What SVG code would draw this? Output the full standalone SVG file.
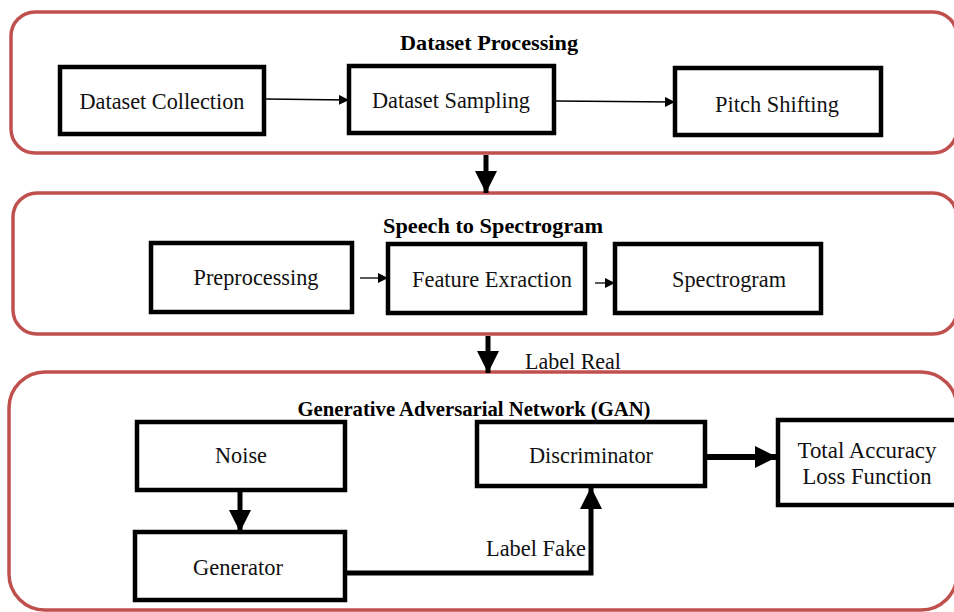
<svg xmlns="http://www.w3.org/2000/svg" width="954" height="612" viewBox="0 0 954 612">
<defs>
<marker id="ah" markerWidth="10" markerHeight="10" refX="9" refY="5" orient="auto" markerUnits="userSpaceOnUse"><path d="M0,0 L10,5 L0,10 Z" fill="#000"/></marker>
<marker id="ahb" markerWidth="24" markerHeight="22" refX="22" refY="11" orient="auto" markerUnits="userSpaceOnUse"><path d="M0,0 L22,11 L0,22 Z" fill="#000"/></marker>
</defs>
<style>
.grp{fill:#fff;stroke:#C0504D;stroke-width:3.5}
.box{fill:#fff;stroke:#000;stroke-width:4.5}
.t{font-family:"Liberation Serif","Times New Roman",serif;font-size:23px;fill:#111;text-anchor:middle}
.h{font-family:"Liberation Serif","Times New Roman",serif;font-size:21px;font-weight:bold;fill:#000;text-anchor:middle}
.thin{stroke:#000;stroke-width:1.3;fill:none}
.thick{stroke:#000;stroke-width:5;fill:none}
</style>
<rect width="954" height="612" fill="#fff"/>
<g id="grp1"><rect class="grp" x="11" y="12" width="946" height="141" rx="24"/><text class="h" x="489" y="50" textLength="178" lengthAdjust="spacingAndGlyphs">Dataset Processing</text></g>
<g id="grp2"><rect class="grp" x="13" y="193" width="944" height="141" rx="24"/><text class="h" x="493" y="233" textLength="220" lengthAdjust="spacingAndGlyphs">Speech to Spectrogram</text></g>
<g id="grp3"><rect class="grp" x="9" y="372" width="948" height="238" rx="36"/><text class="h" x="474" y="416" textLength="353" lengthAdjust="spacingAndGlyphs">Generative Adversarial Network (GAN)</text></g>
<g id="n1"><rect class="box" x="60" y="67" width="204" height="67"/><text class="t" x="162" y="109" textLength="165" lengthAdjust="spacingAndGlyphs">Dataset Collection</text></g>
<g id="n2"><rect class="box" x="349" y="66" width="205" height="67"/><text class="t" x="451" y="108" textLength="158" lengthAdjust="spacingAndGlyphs">Dataset Sampling</text></g>
<g id="n3"><rect class="box" x="675" y="68" width="206" height="67"/><text class="t" x="777" y="112" textLength="124" lengthAdjust="spacingAndGlyphs">Pitch Shifting</text></g>
<g id="n4"><rect class="box" x="151" y="243" width="201" height="69"/><text class="t" x="256" y="285" textLength="125" lengthAdjust="spacingAndGlyphs">Preprocessing</text></g>
<g id="n5"><rect class="box" x="388" y="244" width="197" height="69"/><text class="t" x="492" y="287" textLength="160" lengthAdjust="spacingAndGlyphs">Feature Exraction</text></g>
<g id="n6"><rect class="box" x="615" y="244" width="206" height="69"/><text class="t" x="729" y="287" textLength="114" lengthAdjust="spacingAndGlyphs">Spectrogram</text></g>
<g id="n7"><rect class="box" x="137" y="422" width="208" height="68"/><text class="t" x="241" y="463" textLength="52" lengthAdjust="spacingAndGlyphs">Noise</text></g>
<g id="n8"><rect class="box" x="477" y="422" width="228" height="64"/><text class="t" x="591" y="463" textLength="124" lengthAdjust="spacingAndGlyphs">Discriminator</text></g>
<g id="n9"><rect class="box" x="778" y="420" width="190" height="85"/><text class="t" x="867" y="458" textLength="139" lengthAdjust="spacingAndGlyphs">Total Accuracy</text><text class="t" x="867" y="484" textLength="129" lengthAdjust="spacingAndGlyphs">Loss Function</text></g>
<g id="n10"><rect class="box" x="135" y="532" width="210" height="68"/><text class="t" x="238" y="575" textLength="90" lengthAdjust="spacingAndGlyphs">Generator</text></g>
<g id="connectors">
<line class="thin" x1="266" y1="99" x2="348" y2="100" marker-end="url(#ah)"/>
<line class="thin" x1="556" y1="101" x2="674" y2="102" marker-end="url(#ah)"/>
<line class="thin" x1="360" y1="278" x2="387" y2="278" marker-end="url(#ah)"/>
<line class="thin" x1="595" y1="283" x2="614" y2="283" marker-end="url(#ah)"/>
<line class="thick" x1="486" y1="155" x2="486" y2="193" marker-end="url(#ahb)"/>
<line class="thick" x1="488" y1="336" x2="488" y2="373" marker-end="url(#ahb)"/>
<line class="thick" x1="240" y1="492" x2="240" y2="532" marker-end="url(#ahb)"/>
<polyline class="thick" points="345,573 591,573 591,487" marker-end="url(#ahb)"/>
<line class="thick" x1="707" y1="457" x2="777" y2="457" marker-end="url(#ahb)" style="stroke-width:6"/>
<text class="t" x="573" y="369" textLength="96" lengthAdjust="spacingAndGlyphs">Label Real</text>
<text class="t" x="536" y="556" textLength="100" lengthAdjust="spacingAndGlyphs">Label Fake</text>
</g>
</svg>
